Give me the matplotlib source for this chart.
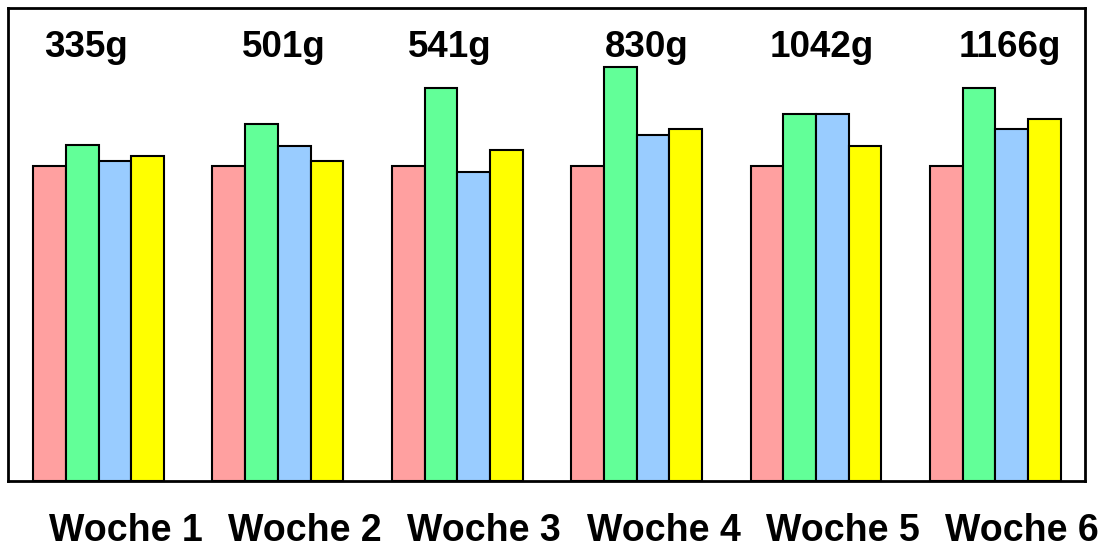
import matplotlib
matplotlib.use("Agg")
import matplotlib.pyplot as plt
import matplotlib.transforms as mtransforms
import numpy as np

plt.rcParams['font.family'] = ['Liberation Sans', 'DejaVu Sans']

weeks = ["Woche 1", "Woche 2", "Woche 3", "Woche 4", "Woche 5", "Woche 6"]
weights = ["335g", "501g", "541g", "830g", "1042g", "1166g"]
pink = [100, 100, 100, 100, 100, 100]
green = [106.6, 113.2, 124.9, 131.5, 116.4, 124.9]
blue = [101.5, 106.5, 98.1, 109.8, 116.4, 111.6]
yellow = [103.3, 101.5, 105.0, 111.6, 106.5, 114.9]

series = [pink, green, blue, yellow]
colors = ["#FFA0A0", "#62FF98", "#99CCFF", "#FFFF00"]

fig = plt.figure(figsize=(11.1, 5.51), dpi=100)
ax = fig.add_axes([0.0072, 0.127, 0.9703, 0.8576])

x = np.arange(len(weeks))
w = 0.1824
for k, (vals, c) in enumerate(zip(series, colors)):
    ax.bar(x + (k - 1.5) * w, vals, width=w, color=c, edgecolor="black", linewidth=1.5)

# horizontal nudges (pixels) of the weight labels, as placed in the original layout
label_nudge_px = [-13, 6, -8, 10, 6, 14]
for xi, lab, dx in zip(x, weights, label_nudge_px):
    tr = ax.transData + mtransforms.ScaledTranslation(dx / 100, 0, fig.dpi_scale_trans)
    ax.text(xi, 137.6, lab, ha="center", va="center", fontsize=26.5,
            fontweight="bold", transform=tr)

ax.set_xlim(-0.505, 5.5)
ax.set_ylim(0, 150)
ax.set_yticks([])
ax.set_xticks(x)
ax.set_xticklabels(weeks, fontsize=27, fontweight="bold")
ax.tick_params(axis="x", length=0, pad=23)
offset = mtransforms.ScaledTranslation(0.27, 0, fig.dpi_scale_trans)
for lbl in ax.get_xticklabels():
    lbl.set_transform(lbl.get_transform() + offset)
for s in ax.spines.values():
    s.set_linewidth(2)

fig.savefig("out.png", dpi=100)
